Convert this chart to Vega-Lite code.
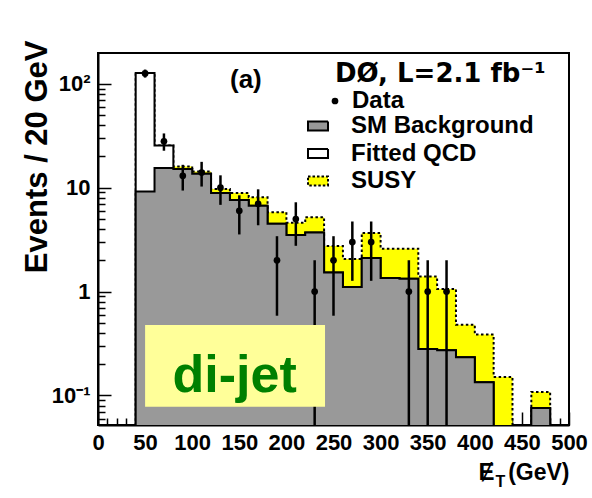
{
  "$schema": "https://vega.github.io/schema/vega-lite/v6.json",
  "width": 471,
  "height": 372,
  "autosize": {"type": "none"},
  "padding": {"left": 98, "top": 53, "right": 23, "bottom": 73},
  "background": "white",
  "config": {
    "view": {"stroke": "black", "strokeWidth": 2},
    "font": "Liberation Sans",
    "axis": {"grid": false, "domainColor": "black", "tickColor": "black", "labelColor": "black", "titleColor": "black"}
  },
  "datasets": {
    "hist": [
      {"e": 40, "bkg": 9.2, "sm": 127, "susy": 127},
      {"e": 60, "bkg": 15.5, "sm": 25.5, "susy": 25.5},
      {"e": 80, "bkg": 15.1, "sm": 15.1, "susy": 16.0},
      {"e": 100, "bkg": 13.6, "sm": 13.6, "susy": 14.3},
      {"e": 120, "bkg": 8.9, "sm": 8.9, "susy": 9.7},
      {"e": 140, "bkg": 7.6, "sm": 7.6, "susy": 8.9},
      {"e": 160, "bkg": 6.7, "sm": 6.7, "susy": 8.1},
      {"e": 180, "bkg": 4.5, "sm": 4.5, "susy": 5.8},
      {"e": 200, "bkg": 3.5, "sm": 3.5, "susy": 4.6},
      {"e": 220, "bkg": 3.7, "sm": 3.7, "susy": 5.2},
      {"e": 240, "bkg": 1.53, "sm": 1.53, "susy": 2.75},
      {"e": 260, "bkg": 1.11, "sm": 1.11, "susy": 2.06},
      {"e": 280, "bkg": 2.11, "sm": 2.11, "susy": 3.67},
      {"e": 300, "bkg": 1.35, "sm": 1.35, "susy": 2.59},
      {"e": 320, "bkg": 1.33, "sm": 1.33, "susy": 2.59},
      {"e": 340, "bkg": 0.281, "sm": 0.281, "susy": 1.40},
      {"e": 360, "bkg": 0.273, "sm": 0.273, "susy": 1.06},
      {"e": 380, "bkg": 0.234, "sm": 0.234, "susy": 0.48},
      {"e": 400, "bkg": 0.134, "sm": 0.134, "susy": 0.386},
      {"e": 420, "bkg": 0.001, "sm": 0.001, "susy": 0.151},
      {"e": 440, "bkg": 0.001, "sm": 0.001, "susy": 0.001},
      {"e": 460, "bkg": 0.076, "sm": 0.076, "susy": 0.108},
      {"e": 480, "bkg": 0.001, "sm": 0.001, "susy": 0.001},
      {"e": 500, "bkg": 0.001, "sm": 0.001, "susy": 0.001}
    ],
    "events": [
      {"et": 50, "n": 126, "lo": 114.8, "hi": 137.2},
      {"et": 70, "n": 28, "lo": 22.7, "hi": 33.3},
      {"et": 90, "n": 13, "lo": 9.39, "hi": 16.61},
      {"et": 110, "n": 14, "lo": 10.26, "hi": 17.74},
      {"et": 130, "n": 10, "lo": 6.84, "hi": 13.16},
      {"et": 150, "n": 6, "lo": 3.55, "hi": 8.45},
      {"et": 170, "n": 7, "lo": 4.35, "hi": 9.65},
      {"et": 190, "n": 2, "lo": 0.586, "hi": 3.414},
      {"et": 210, "n": 5, "lo": 2.76, "hi": 7.24},
      {"et": 230, "n": 1, "lo": 0.001, "hi": 2},
      {"et": 250, "n": 2, "lo": 0.586, "hi": 3.414},
      {"et": 270, "n": 3, "lo": 1.27, "hi": 4.73},
      {"et": 290, "n": 3, "lo": 1.27, "hi": 4.73},
      {"et": 330, "n": 1, "lo": 0.001, "hi": 2},
      {"et": 350, "n": 1, "lo": 0.001, "hi": 2},
      {"et": 370, "n": 1, "lo": 0.001, "hi": 2}
    ],
    "note": [{"label": "note"}]
  },
  "layer": [
    {
      "data": {"name": "hist"},
      "mark": {"type": "area", "interpolate": "step-after", "stroke": "black", "strokeWidth": 2, "strokeDash": [2.5, 2.5], "opacity": 1, "clip": true},
      "encoding": {
        "x": {
          "field": "e", "type": "quantitative",
          "scale": {"domain": [0, 500], "nice": false, "zero": false},
          "axis": {
            "orient": "bottom", "values": [0, 50, 100, 150, 200, 250, 300, 350, 400, 450, 500], "format": "d",
            "tickSize": -13, "tickWidth": 1.5, "domainWidth": 2,
            "labelFont": "Liberation Sans", "labelFontSize": 22, "labelFontWeight": "bold",
            "labelPadding": 20, "labelFlush": false, "labelOverlap": false, "title": null
          }
        },
        "y": {
          "field": "susy", "type": "quantitative",
          "scale": {"type": "log", "domain": [0.052, 198], "nice": false},
          "axis": {
            "orient": "left", "values": [0.1, 1, 10, 100],
            "labelExpr": "datum.value >= 100 ? '10²' : datum.value >= 10 ? '10' : datum.value >= 1 ? '1' : '10⁻¹'",
            "tickSize": -13, "tickWidth": 1.5, "domainWidth": 2,
            "labelFont": "Liberation Sans", "labelFontSize": 22, "labelFontWeight": "bold", "labelPadding": 21,
            "title": "Events / 20 GeV", "titleFont": "Liberation Sans", "titleFontSize": 31, "titleFontWeight": "bold",
            "titleAngle": -90, "titleAlign": "right", "titleBaseline": "alphabetic", "titleX": -52, "titleY": -13
          }
        },
        "y2": {"datum": 0.001},
        "fill": {
          "datum": "SUSY",
          "scale": {"domain": ["SM Background", "Fitted QCD", "SUSY"], "range": ["#999999", "#ffffff", "#ffff00"]},
          "legend": {
            "orient": "none", "legendX": 208, "legendY": 61, "title": null, "direction": "vertical",
            "symbolType": "M-2.5,-1.1H2.5V1.1H-2.5Z", "symbolSize": 64, "symbolStrokeColor": "black", "symbolStrokeWidth": 2,
            "symbolOpacity": 1, "rowPadding": 3.5,
            "labelFont": "Liberation Sans", "labelFontSize": 24, "labelFontWeight": "bold", "labelColor": "black",
            "labelOffset": 21, "labelLimit": 400,
            "encode": {"symbols": {"update": {"strokeDash": {"signal": "datum.value === 'SUSY' ? [2.5, 2] : [1, 0]"}, "stroke": {"value": "black"}}}}
          }
        }
      }
    },
    {
      "data": {"name": "hist"},
      "mark": {"type": "area", "interpolate": "step-after", "stroke": "black", "strokeWidth": 2, "opacity": 1, "clip": true},
      "encoding": {
        "x": {
          "field": "e", "type": "quantitative",
          "axis": {
            "orient": "bottom",
            "values": [10, 20, 30, 40, 60, 70, 80, 90, 110, 120, 130, 140, 160, 170, 180, 190, 210, 220, 230, 240, 260, 270, 280, 290, 310, 320, 330, 340, 360, 370, 380, 390, 410, 420, 430, 440, 460, 470, 480, 490],
            "tickSize": -7, "tickWidth": 1.5, "labels": false, "domain": false, "title": null
          }
        },
        "y": {
          "field": "sm", "type": "quantitative",
          "axis": {
            "orient": "left",
            "values": [0.06, 0.07, 0.08, 0.09, 0.2, 0.3, 0.4, 0.5, 0.6, 0.7, 0.8, 0.9, 2, 3, 4, 5, 6, 7, 8, 9, 20, 30, 40, 50, 60, 70, 80, 90],
            "tickSize": -7, "tickWidth": 1.5, "labels": false, "domain": false, "title": null
          }
        },
        "y2": {"datum": 0.001},
        "fill": {"datum": "Fitted QCD"}
      }
    },
    {
      "data": {"name": "hist"},
      "mark": {"type": "area", "interpolate": "step-after", "stroke": "black", "strokeWidth": 2, "opacity": 1, "clip": true},
      "encoding": {
        "x": {
          "field": "e", "type": "quantitative",
          "axis": {
            "orient": "bottom", "ticks": false, "labels": false, "domain": false,
            "title": "(GeV)", "titleFont": "Liberation Sans", "titleFontSize": 23, "titleFontWeight": "bold",
            "titleAlign": "right", "titleBaseline": "alphabetic", "titleX": 471, "titleY": 54
          }
        },
        "y": {"field": "bkg", "type": "quantitative", "axis": null},
        "y2": {"datum": 0.001},
        "fill": {"datum": "SM Background"}
      }
    },
    {
      "data": {"name": "events"},
      "mark": {"type": "rule", "color": "black", "strokeWidth": 2.5, "clip": true},
      "encoding": {
        "x": {
          "field": "et", "type": "quantitative",
          "axis": {
            "orient": "bottom", "ticks": false, "labels": false, "domain": false,
            "title": "Ɇ", "titleFont": "Liberation Sans", "titleFontSize": 24, "titleFontWeight": "bold",
            "titleAlign": "right", "titleBaseline": "alphabetic", "titleX": 396, "titleY": 54
          }
        },
        "y": {"field": "lo", "type": "quantitative", "axis": null},
        "y2": {"field": "hi"}
      }
    },
    {
      "data": {"name": "events"},
      "mark": {"type": "point", "filled": true, "color": "black", "size": 45, "opacity": 1},
      "encoding": {
        "x": {
          "field": "et", "type": "quantitative",
          "axis": {
            "orient": "bottom", "ticks": false, "labels": false, "domain": false,
            "title": "T", "titleFont": "Liberation Sans", "titleFontSize": 16, "titleFontWeight": "bold",
            "titleAlign": "left", "titleBaseline": "alphabetic", "titleX": 397, "titleY": 61
          }
        },
        "y": {"field": "n", "type": "quantitative", "axis": null},
        "shape": {
          "datum": "Data",
          "scale": {"range": ["circle"]},
          "legend": {
            "orient": "none", "legendX": 237, "legendY": 8,
            "title": "DØ, L=2.1 fb⁻¹", "titleFont": "DejaVu Sans", "titleFontSize": 26, "titleFontWeight": "bold",
            "titleColor": "black", "titleLimit": 400, "titlePadding": 2,
            "labelFont": "Liberation Sans", "labelFontSize": 24, "labelFontWeight": "bold", "labelColor": "black",
            "labelOffset": 5, "labelLimit": 400, "symbolOffset": -12,
            "symbolFillColor": "black", "symbolStrokeColor": "black", "symbolSize": 45, "symbolOpacity": 1
          }
        }
      }
    },
    {
      "data": {"name": "note"},
      "mark": {"type": "rect", "color": "#ffff99", "opacity": 1},
      "encoding": {
        "x": {"datum": 50, "type": "quantitative", "axis": null},
        "x2": {"datum": 241},
        "y": {"datum": 0.476, "type": "quantitative", "axis": null},
        "y2": {"datum": 0.0778}
      }
    },
    {
      "data": {"name": "note"},
      "mark": {"type": "text", "text": "di-jet", "font": "Liberation Sans", "fontSize": 52, "fontWeight": "bold", "color": "#008000", "align": "center", "baseline": "alphabetic"},
      "encoding": {
        "x": {"datum": 145, "type": "quantitative", "axis": null},
        "y": {"datum": 0.108, "type": "quantitative", "axis": null}
      }
    },
    {
      "data": {"name": "note"},
      "mark": {"type": "text", "text": "(a)", "font": "Liberation Sans", "fontSize": 26, "fontWeight": "bold", "color": "black", "align": "center", "baseline": "alphabetic"},
      "encoding": {
        "x": {"datum": 157, "type": "quantitative", "axis": null},
        "y": {"datum": 90.9, "type": "quantitative", "axis": null}
      }
    }
  ],
  "resolve": {"axis": {"x": "independent", "y": "independent"}}
}
